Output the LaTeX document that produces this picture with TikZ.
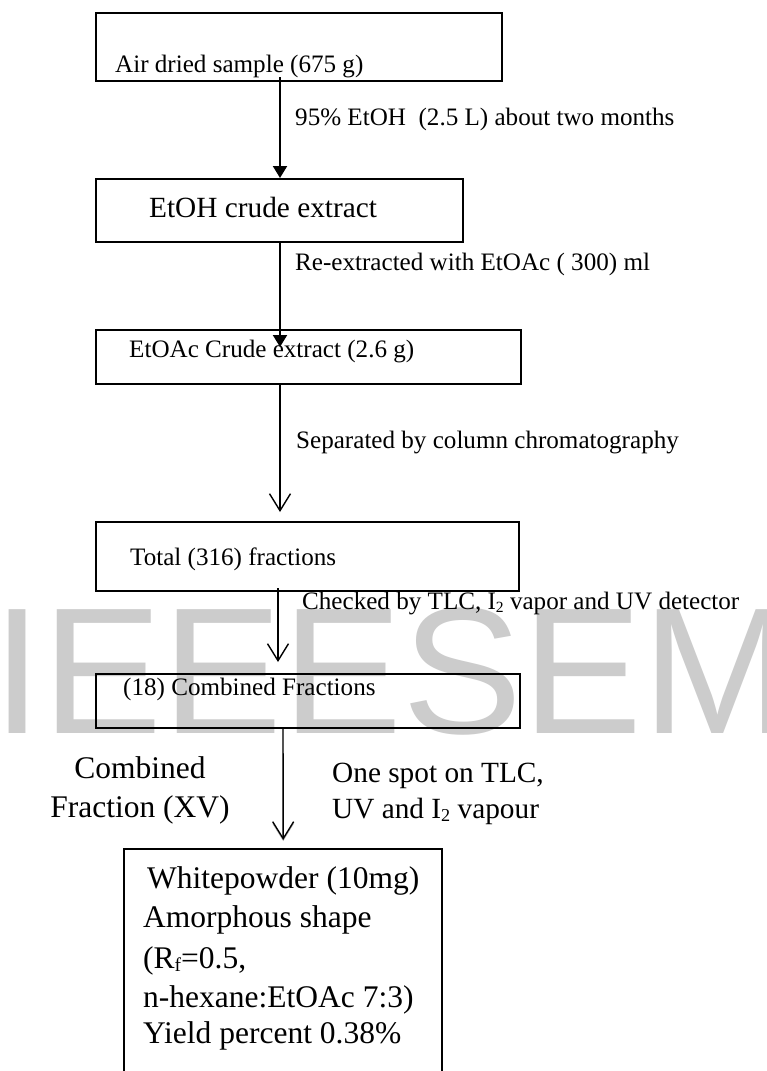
\documentclass[tikz,border=0pt]{standalone}
\usepackage{fontspec}
\usepackage{graphicx}
\setmainfont{Liberation Serif}
\newfontfamily\wmfont{Liberation Sans}
\usetikzlibrary{arrows.meta}
\definecolor{wmgray}{RGB}{204,204,204}
\newcommand{\myfsN}{\fontsize{25.1}{30}\selectfont}
\newcommand{\myfsL}{\fontsize{29.3}{35}\selectfont}
\newcommand{\myfsX}{\fontsize{31.5}{39}\selectfont}
\newcommand{\mysubs}[1]{\raisebox{-0.12em}{\scalebox{0.62}{#1}}}
\begin{document}
\begin{tikzpicture}[x=1pt,y=-1pt,
  box/.style={draw, line width=2pt, inner sep=0pt},
  txt/.style={inner sep=0pt, anchor=base west, font=\myfsN},
  txtL/.style={inner sep=0pt, anchor=base west, font=\myfsL},
  txtX/.style={inner sep=0pt, anchor=base west, font=\myfsX},
  filledarrow/.style={line width=2pt, -{Triangle[width=14pt,length=12pt]}},
  openarrow/.style={line width=1.4pt, -{Straight Barb[width=21pt,length=17pt,line width=1.4pt]}}]
\useasboundingbox (0,0) rectangle (766,1071);
\fill[white] (0,0) rectangle (766,1071);
% watermark
\node[inner sep=0pt, anchor=base west, text=wmgray, font=\wmfont\fontsize{180}{180}\selectfont] (wm) at (-8,733) {IEEESEM};
% boxes
\node[box, minimum width=406pt, minimum height=68pt] (b1) at (299,47) {};
\node[box, minimum width=367pt, minimum height=63pt] (b2) at (279.5,210.5) {};
\node[box, minimum width=425pt, minimum height=54pt] (b3) at (308.5,357) {};
\node[box, minimum width=423pt, minimum height=69pt] (b4) at (307.5,556.5) {};
\node[box, minimum width=424pt, minimum height=54pt] (b5) at (308,701) {};
\node[inner sep=0pt, anchor=north west, minimum width=318pt, minimum height=222pt] (b6) at (124,849) {};
\draw[line width=2pt] (b6.south west) -- (b6.north west) -- (b6.north east) -- (b6.south east);
% arrows
\draw[filledarrow] ([xshift=-19pt,yshift=5pt]b1.south) -- ([xshift=0.5pt]b2.north);
\draw[filledarrow] ([xshift=0.5pt]b2.south) -- ([xshift=-28.5pt,yshift=-18pt]b3.north);
\draw[openarrow] ([xshift=-28.5pt]b3.south) -- ([xshift=-27.5pt,yshift=9pt]b4.north);
\draw[openarrow] ([xshift=-29.5pt,yshift=4pt]b4.south) -- ([xshift=-30pt,yshift=11pt]b5.north);
\draw[openarrow, preaction={draw=gray!70, transform canvas={yshift=-2pt}}] ([xshift=-25pt,yshift=2pt]b5.south) -- ([yshift=9pt]b6.north);
% texts
\node[txt] (t1) at (115,72) {Air dried sample (675 g)};
\node[txt] (l1) at (295,125) {95\% EtOH~~(2.5 L) about two months};
\node[txtL] (t2) at (149,217) {EtOH crude extract};
\node[txt] (l2) at (295,270) {Re-extracted with EtOAc (~300) ml};
\node[txt] (t3) at (129,357) {EtOAc Crude extract (2.6 g)};
\node[txt] (l3) at (296,448) {Separated by column chromatography};
\node[txt] (t4) at (130,565) {Total (316) fractions};
\node[txt] (l4) at (302,609) {Checked by TLC, I\mysubs{2} vapor and UV detector};
\node[txt] (t5) at (123,695) {(18) Combined Fractions};
\node[txtX, anchor=base] (c1) at (140,778) {Combined};
\node[txtX, anchor=base] (c2) at (140,817) {Fraction (XV)};
\node[txtL] (o1) at (332,782) {One spot on TLC,};
\node[txtL] (o2) at (332,818) {UV and I\mysubs{2} vapour};
\node[txtX] (w1) at (147,888) {Whitepowder (10mg)};
\node[txtX] (w2) at (143,927) {Amorphous shape};
\node[txtX] (w3) at (143,968) {(R\mysubs{f}=0.5,};
\node[txtX] (w4) at (143,1007) {n-hexane:EtOAc 7:3)};
\node[txtX] (w5) at (143,1043) {Yield percent 0.38\%};
\end{tikzpicture}
\end{document}
